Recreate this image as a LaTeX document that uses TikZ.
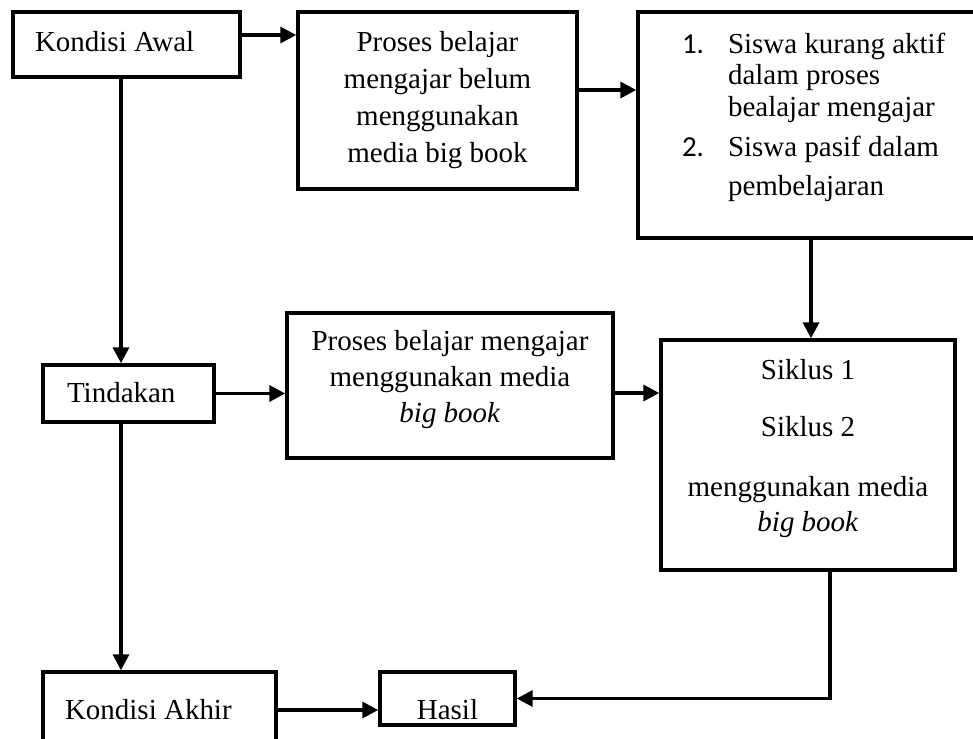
\documentclass[tikz,border=0pt]{standalone}
\usepackage{fontspec}
\setmainfont{Liberation Serif}
\newfontfamily\numfont{Carlito}
\usetikzlibrary{arrows.meta}

\begin{document}
\begin{tikzpicture}[x=0.02cm, y=-0.02cm,
  box/.style={draw, black, line width=2pt, inner sep=0pt, anchor=center},
  flow/.style={line width=2pt, -{Triangle[length=9pt,width=9pt]}}]

  % bounding box
  \useasboundingbox (0,0) rectangle (973,738);

  % kondisi awal
  \node [box] (awal) at (126.5,44.5) {\parbox[c][1.30cm][t]{4.54cm}{\fontsize{16.5}{21}\selectfont
    \vspace*{0.28cm}\hspace*{0.44cm}\strut Kondisi Awal}};

  % proses belum big book
  \node [box] (belum) at (437.5,100.5) {\parbox[c][3.54cm][t]{5.58cm}{\centering\fontsize{16.5}{21}\selectfont
    \vspace*{0.28cm}\strut Proses belajar\\ mengajar belum\\ menggunakan\\ media big book}};

  % masalah (list)
  \node [box] (masalah) at (807,125) {\parbox[c][4.52cm][t]{6.76cm}{\fontsize{16.5}{18}\selectfont
    \vspace*{0.38cm}\hspace*{0.88cm}\begin{tabular}[t]{@{}p{0.92cm}@{}l@{}}
      {\numfont 1.} & Siswa kurang aktif\\
                    & dalam proses\\
                    & bealajar mengajar\\[5pt]
      {\numfont 2.} & Siswa pasif dalam\\[4pt]
                    & pembelajaran
    \end{tabular}}};

  % tindakan
  \node [box] (tindakan) at (128.5,393.5) {\parbox[c][1.14cm][t]{3.42cm}{\fontsize{16.5}{21}\selectfont
    \vspace*{0.24cm}\hspace*{0.48cm}\strut Tindakan}};

  % proses dengan big book
  \node [box] (proses) at (450,385.5) {\parbox[c][2.9cm][t]{6.52cm}{\centering\fontsize{16.5}{20.5}\selectfont
    \vspace*{0.24cm}\strut Proses belajar mengajar\\ menggunakan media\\ \textit{big book}}};

  % siklus
  \node [box] (siklus) at (808,455) {\parbox[c][4.6cm][t]{5.88cm}{\centering\fontsize{16.5}{18}\selectfont
    \vspace*{0.34cm}\strut Siklus 1\\[14.5pt] Siklus 2\\[16.5pt] menggunakan media\\[1.5pt] \textit{big book}}};

  % kondisi akhir
  \node [box] (akhir) at (159.5,708.5) {\parbox[c][1.46cm][t]{4.66cm}{\fontsize{16.5}{21}\selectfont
    \vspace*{0.44cm}\hspace*{0.44cm}\strut Kondisi Akhir}};

  % hasil
  \node [box] (hasil) at (447.5,698.5) {\parbox[c][1.06cm][t]{2.7cm}{\centering\fontsize{16.5}{21}\selectfont
    \vspace*{0.44cm}\strut Hasil}};

  % arrows
  \draw [flow] ([yshift=0.19cm]awal.east) -- ([yshift=0.19cm]awal.east -| belum.west);
  \draw [flow] ([yshift=0.21cm]belum.east) -- ([yshift=0.21cm]belum.east -| masalah.west);
  \draw [flow] ([xshift=0.08cm]masalah.south) -- ([xshift=0.08cm]masalah.south |- siklus.north);
  \draw [flow] ([xshift=-0.11cm]awal.south) -- ([xshift=-0.11cm]awal.south |- tindakan.north);
  \draw [flow] (tindakan.east) -- (tindakan.east -| proses.west);
  \draw [flow] ([yshift=-0.15cm]proses.east) -- ([yshift=-0.15cm]proses.east -| siklus.west);
  \draw [flow] ([xshift=-0.15cm]tindakan.south) -- ([xshift=-0.15cm]tindakan.south |- akhir.north);
  \draw [flow] ([yshift=-0.03cm]akhir.east) -- ([yshift=-0.03cm]akhir.east -| hasil.west);
  \draw [flow] ([xshift=0.44cm]siklus.south) |- (hasil.east);

\end{tikzpicture}
\end{document}
